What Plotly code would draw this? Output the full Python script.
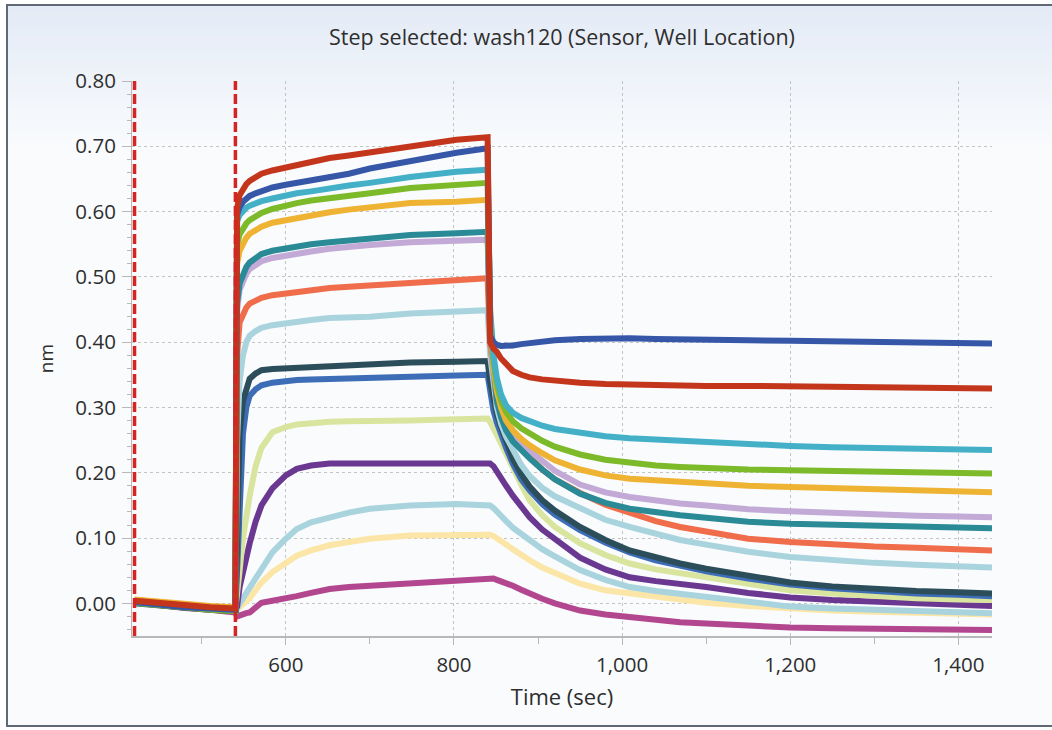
import plotly.graph_objects as go

# ---------------- data ----------------
time_s = [420, 450, 480, 510, 540,
          542, 545, 549, 553, 557, 564, 571, 584, 600, 613, 630, 652, 675, 700, 748, 803, 840,
          843, 847, 851, 856, 862, 870, 880, 890, 905, 920, 950, 980, 1009, 1040, 1069, 1100,
          1150, 1200, 1250, 1300, 1350, 1400, 1440]

step_boundaries = [420, 540]

magenta = [0.002, -0.003, -0.007, -0.010, -0.014,
           -0.020, -0.018, -0.016, -0.015, -0.014, -0.006, 0.001, 0.004, 0.007, 0.011, 0.016, 0.022, 0.025, 0.027, 0.030, 0.035, 0.038,
           0.039, 0.038, 0.036, 0.034, 0.031, 0.027, 0.021, 0.015, 0.007, 0.000, -0.011, -0.017, -0.021, -0.025, -0.029, -0.031,
           -0.035, -0.037, -0.038, -0.039, -0.040, -0.041, -0.041]
pale_yellow = [0.004, 0.001, -0.003, -0.006, -0.009,
               -0.010, -0.006, -0.002, 0.003, 0.008, 0.020, 0.032, 0.048, 0.062, 0.073, 0.081, 0.089, 0.094, 0.099, 0.104, 0.105, 0.106,
               0.105, 0.103, 0.100, 0.096, 0.090, 0.083, 0.074, 0.066, 0.055, 0.046, 0.030, 0.020, 0.015, 0.010, 0.005, 0.001,
               -0.004, -0.008, -0.011, -0.013, -0.015, -0.016, -0.017]
light_blue_2 = [0.003, 0.000, -0.004, -0.007, -0.009,
                -0.008, 0.000, 0.008, 0.015, 0.022, 0.038, 0.053, 0.078, 0.099, 0.114, 0.124, 0.132, 0.139, 0.145, 0.150, 0.152, 0.152,
                0.150, 0.146, 0.140, 0.134, 0.126, 0.116, 0.106, 0.097, 0.083, 0.072, 0.051, 0.036, 0.025, 0.019, 0.015, 0.010,
                0.002, -0.005, -0.008, -0.010, -0.012, -0.014, -0.015]
purple = [0.004, 0.000, -0.003, -0.006, -0.008,
          -0.005, 0.025, 0.050, 0.072, 0.092, 0.125, 0.150, 0.176, 0.196, 0.206, 0.211, 0.214, 0.214, 0.214, 0.215, 0.216, 0.216,
          0.214, 0.210, 0.203, 0.193, 0.180, 0.165, 0.147, 0.132, 0.113, 0.098, 0.070, 0.052, 0.040, 0.034, 0.030, 0.025,
          0.016, 0.009, 0.005, 0.002, 0.000, -0.002, -0.004]
pale_green = [0.005, 0.001, -0.002, -0.005, -0.008,
              0.010, 0.050, 0.100, 0.135, 0.165, 0.210, 0.238, 0.262, 0.270, 0.274, 0.276, 0.278, 0.279, 0.279, 0.280, 0.282, 0.283,
              0.278, 0.270, 0.258, 0.245, 0.228, 0.207, 0.182, 0.158, 0.135, 0.117, 0.092, 0.074, 0.061, 0.052, 0.046, 0.040,
              0.029, 0.020, 0.015, 0.011, 0.008, 0.006, 0.005]
medium_blue = [0.002, -0.002, -0.005, -0.008, -0.010,
               0.050, 0.150, 0.260, 0.300, 0.318, 0.328, 0.334, 0.338, 0.341, 0.342, 0.343, 0.344, 0.345, 0.346, 0.347, 0.349, 0.350,
               0.320, 0.295, 0.277, 0.258, 0.238, 0.214, 0.190, 0.173, 0.152, 0.136, 0.112, 0.093, 0.078, 0.066, 0.057, 0.049,
               0.038, 0.029, 0.023, 0.018, 0.015, 0.013, 0.011]
dark_slate = [0.000, -0.004, -0.007, -0.010, -0.012,
              0.100, 0.260, 0.310, 0.330, 0.344, 0.352, 0.357, 0.359, 0.360, 0.362, 0.363, 0.364, 0.366, 0.367, 0.369, 0.370, 0.371,
              0.340, 0.310, 0.290, 0.270, 0.248, 0.222, 0.198, 0.179, 0.158, 0.142, 0.117, 0.097, 0.081, 0.070, 0.061, 0.053,
              0.042, 0.032, 0.026, 0.022, 0.019, 0.017, 0.015]
light_blue_1 = [0.003, -0.001, -0.004, -0.007, -0.009,
                0.250, 0.340, 0.380, 0.400, 0.410, 0.417, 0.422, 0.426, 0.429, 0.432, 0.434, 0.437, 0.438, 0.439, 0.444, 0.446, 0.449,
                0.380, 0.330, 0.300, 0.275, 0.255, 0.236, 0.212, 0.195, 0.177, 0.164, 0.147, 0.128, 0.117, 0.106, 0.097, 0.090,
                0.079, 0.071, 0.066, 0.062, 0.059, 0.057, 0.055]
salmon = [0.004, 0.000, -0.003, -0.006, -0.008,
          0.380, 0.430, 0.445, 0.453, 0.459, 0.464, 0.468, 0.472, 0.475, 0.478, 0.480, 0.483, 0.485, 0.487, 0.490, 0.495, 0.498,
          0.400, 0.345, 0.310, 0.290, 0.270, 0.252, 0.236, 0.224, 0.205, 0.190, 0.169, 0.151, 0.138, 0.126, 0.117, 0.110,
          0.099, 0.094, 0.090, 0.087, 0.085, 0.083, 0.081]
lavender = [0.004, 0.000, -0.003, -0.006, -0.008,
            0.450, 0.480, 0.495, 0.505, 0.512, 0.519, 0.524, 0.529, 0.533, 0.536, 0.539, 0.543, 0.546, 0.549, 0.553, 0.556, 0.557,
            0.420, 0.350, 0.315, 0.290, 0.272, 0.256, 0.244, 0.234, 0.217, 0.203, 0.182, 0.170, 0.163, 0.157, 0.153, 0.150,
            0.144, 0.141, 0.138, 0.136, 0.134, 0.133, 0.132]
teal = [0.001, -0.003, -0.006, -0.009, -0.011,
        0.460, 0.490, 0.505, 0.515, 0.522, 0.530, 0.535, 0.540, 0.544, 0.547, 0.550, 0.553, 0.556, 0.559, 0.564, 0.567, 0.569,
        0.420, 0.350, 0.310, 0.285, 0.265, 0.248, 0.234, 0.222, 0.205, 0.190, 0.168, 0.154, 0.145, 0.139, 0.135, 0.131,
        0.125, 0.122, 0.120, 0.118, 0.117, 0.116, 0.115]
orange = [0.006, 0.002, -0.001, -0.004, -0.006,
          0.520, 0.540, 0.552, 0.560, 0.566, 0.572, 0.577, 0.583, 0.587, 0.591, 0.595, 0.599, 0.603, 0.607, 0.613, 0.615, 0.618,
          0.430, 0.360, 0.325, 0.300, 0.280, 0.265, 0.252, 0.242, 0.230, 0.219, 0.205, 0.196, 0.191, 0.188, 0.186, 0.184,
          0.180, 0.178, 0.176, 0.174, 0.173, 0.171, 0.170]
green = [0.001, -0.003, -0.007, -0.010, -0.012,
         0.550, 0.565, 0.575, 0.582, 0.587, 0.593, 0.598, 0.604, 0.610, 0.613, 0.617, 0.621, 0.625, 0.628, 0.636, 0.641, 0.644,
         0.440, 0.370, 0.335, 0.310, 0.293, 0.279, 0.268, 0.260, 0.249, 0.240, 0.228, 0.220, 0.215, 0.211, 0.209, 0.207,
         0.205, 0.204, 0.203, 0.202, 0.201, 0.200, 0.199]
cyan = [0.002, -0.002, -0.005, -0.008, -0.010,
        0.585, 0.595, 0.602, 0.606, 0.609, 0.613, 0.616, 0.620, 0.625, 0.628, 0.631, 0.636, 0.640, 0.644, 0.653, 0.661, 0.664,
        0.450, 0.380, 0.345, 0.320, 0.303, 0.292, 0.284, 0.279, 0.272, 0.267, 0.261, 0.256, 0.253, 0.251, 0.249, 0.247,
        0.243, 0.241, 0.239, 0.238, 0.237, 0.236, 0.235]
dark_blue = [0.002, -0.003, -0.006, -0.008, -0.010,
             0.595, 0.607, 0.615, 0.620, 0.624, 0.628, 0.632, 0.637, 0.641, 0.644, 0.647, 0.651, 0.658, 0.666, 0.678, 0.690, 0.697,
             0.410, 0.400, 0.396, 0.394, 0.394, 0.395, 0.397, 0.399, 0.401, 0.403, 0.405, 0.406, 0.406, 0.405, 0.405, 0.404,
             0.403, 0.402, 0.401, 0.400, 0.399, 0.398, 0.398]
red = [0.004, 0.000, -0.003, -0.006, -0.008,
       0.605, 0.625, 0.635, 0.642, 0.647, 0.652, 0.658, 0.663, 0.668, 0.672, 0.676, 0.682, 0.686, 0.691, 0.699, 0.710, 0.714,
       0.400, 0.390, 0.385, 0.375, 0.366, 0.356, 0.350, 0.346, 0.343, 0.341, 0.338, 0.336, 0.335, 0.334, 0.334, 0.333,
       0.333, 0.332, 0.332, 0.331, 0.331, 0.330, 0.329]

series = [
    ("magenta", magenta, "#b3478f"),
    ("pale yellow", pale_yellow, "#fbe6a8"),
    ("light blue 2", light_blue_2, "#a9d3dd"),
    ("purple", purple, "#6a3890"),
    ("pale green", pale_green, "#d9e59f"),
    ("medium blue", medium_blue, "#3d6db6"),
    ("dark slate", dark_slate, "#2c4e5b"),
    ("light blue 1", light_blue_1, "#a9d4de"),
    ("salmon", salmon, "#ef6d4a"),
    ("lavender", lavender, "#c2a9d6"),
    ("teal", teal, "#2a8a96"),
    ("orange", orange, "#efb334"),
    ("green", green, "#7dba2a"),
    ("cyan", cyan, "#43b0c8"),
    ("dark blue", dark_blue, "#3657a8"),
    ("red", red, "#c3361c"),
]

# ---------------- figure ----------------
fig = go.Figure()
for name, vals, col in series:
    fig.add_trace(go.Scatter(x=time_s, y=vals, mode="lines", name=name,
                             line=dict(color=col, width=6), showlegend=False,
                             hoverinfo="skip"))

for tb in step_boundaries:
    fig.add_shape(type="line", xref="x", yref="y", x0=tb, x1=tb, y0=-0.05, y1=0.80,
                  line=dict(color="#d42424", width=3.5, dash="10px,4px"), layer="above")

L, R, T, B = 132, 60, 81, 94
W, H = 1052, 730
pw, ph = W - L - R, H - T - B


def px_x(px):
    return (px - L) / pw


def px_y(py):
    return (H - B - py) / ph


shapes = []
# window frame
shapes.append(dict(type="rect", xref="paper", yref="paper",
                   x0=px_x(7), x1=px_x(1070), y0=px_y(726), y1=px_y(5),
                   line=dict(color="#5f6975", width=2), fillcolor="#f9fbfd", layer="below"))
# top gradient
c0 = (228, 235, 246)
c1 = (249, 251, 253)
n = 24
top, bot = 6, 150
for i in range(n):
    f = i / (n - 1)
    col = tuple(int(round(c0[k] + (c1[k] - c0[k]) * f)) for k in range(3))
    y_a = top + (bot - top) * i / n
    y_b = top + (bot - top) * (i + 1) / n + 0.5
    shapes.append(dict(type="rect", xref="paper", yref="paper",
                       x0=px_x(8), x1=px_x(1070), y0=px_y(y_b), y1=px_y(y_a),
                       line=dict(width=0), fillcolor="rgb(%d,%d,%d)" % col, layer="below"))
for s in shapes:
    fig.add_shape(**s)

font_family = "Open Sans, Liberation Sans, Arial, sans-serif"
txt = "#2e2e2e"

fig.update_layout(
    width=W, height=H,
    margin=dict(l=L, r=R, t=T, b=B),
    paper_bgcolor="white",
    plot_bgcolor="rgba(0,0,0,0)",
    font=dict(family=font_family, size=20, color=txt),
    title=dict(text="Step selected: wash120 (Sensor, Well Location)",
               x=0.5, xref="paper", xanchor="center",
               y=1 - 37 / H, yref="container", yanchor="middle",
               font=dict(size=21.5, color=txt)),
    xaxis=dict(range=[417, 1440], tickvals=[600, 800, 1000, 1200, 1400],
               tickformat=",d", showgrid=True, gridcolor="#c4c4c4", griddash="dot",
               gridwidth=1, zeroline=False, showline=True, linecolor="#b8b8b8",
               linewidth=1.5, ticks="outside", ticklen=7, tickcolor="#b8b8b8",
               ticklabelstandoff=3,
               tickfont=dict(size=20.5, color=txt),
               minor=dict(dtick=100, tick0=400, ticks="outside", ticklen=6,
                          tickcolor="#b8b8b8", showgrid=False),
               title=dict(text="Time (sec)", font=dict(size=22, color=txt), standoff=12)),
    yaxis=dict(range=[-0.05, 0.80], tickvals=[0, 0.1, 0.2, 0.3, 0.4, 0.5, 0.6, 0.7, 0.8],
               tickformat=".2f", showgrid=True, gridcolor="#c4c4c4", griddash="dot",
               gridwidth=1, zeroline=False, showline=True, linecolor="#b8b8b8",
               ticks="outside", ticklen=9, tickcolor="#b8b8b8",
               ticklabelstandoff=2,
               tickfont=dict(size=20.5, color=txt),
               minor=dict(dtick=0.02, tick0=0, ticks="outside", ticklen=4,
                          tickcolor="#b8b8b8", showgrid=False),
               title=dict(text="nm", font=dict(size=19, color=txt), standoff=16)),
)

fig.write_html("out.html")
